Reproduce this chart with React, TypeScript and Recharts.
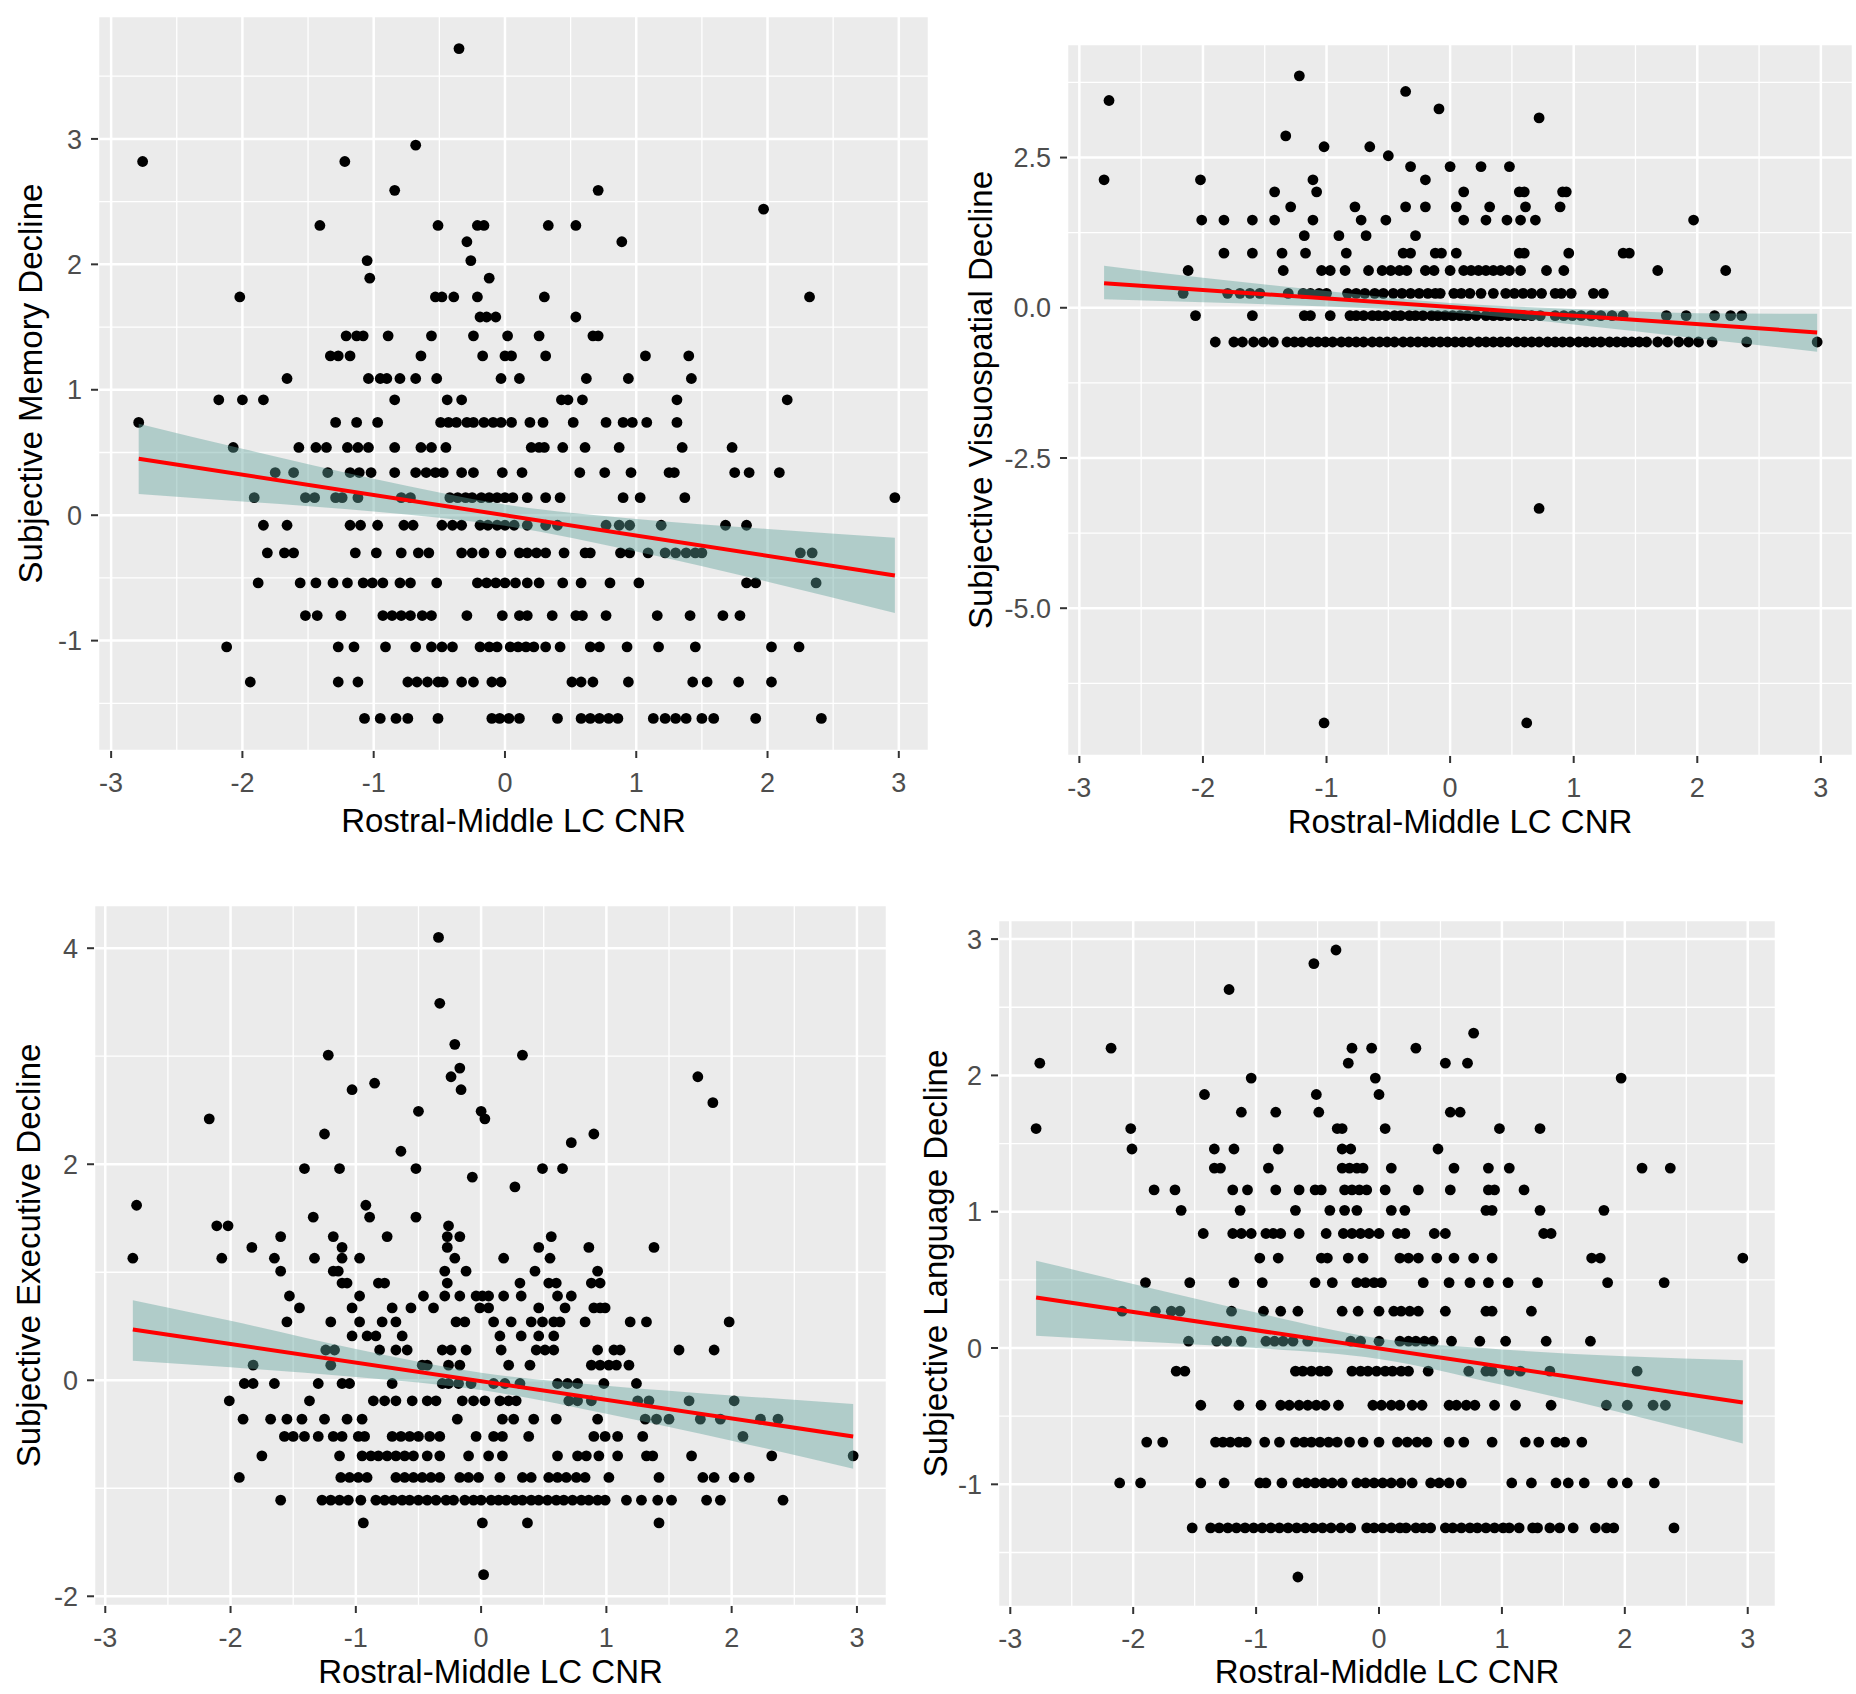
import React from 'react';
import { ComposedChart, Scatter, Line, Area, XAxis, YAxis, CartesianGrid, Label } from 'recharts';

type Row = [number, number[]];
type Band = [number, number, number];
type Fit = [number, number];

const FONT = "'Liberation Sans', Arial, Helvetica, sans-serif";
const X_TITLE = 'Rostral-Middle LC CNR';

const xTicks = [-3, -2, -1, 0, 1, 2, 3];
const xMinorTicks = [-2.5, -1.5, -0.5, 0.5, 1.5, 2.5];

// Subjective Memory Decline: [y level, x values]
const memoryRows: Row[] = [
  [3.72, [-0.35]],
  [2.95, [-0.68]],
  [2.82, [-2.76, -1.22]],
  [2.59, [-0.84, 0.71]],
  [2.44, [1.97]],
  [2.31, [-1.41, -0.51, -0.21, -0.16, 0.33, 0.54]],
  [2.18, [-0.29, 0.89]],
  [2.03, [-1.05, -0.26]],
  [1.89, [-1.03, -0.12]],
  [1.74, [-2.02, -0.53, -0.48, -0.39, -0.21, 0.3, 2.32]],
  [1.58, [-0.19, -0.14, -0.07, 0.54]],
  [1.43, [-1.21, -1.13, -1.08, -0.89, -0.56, -0.24, 0.02, 0.26, 0.67, 0.71]],
  [1.27, [-1.33, -1.27, -1.18, -0.64, -0.17, 0.0, 0.05, 0.31, 1.07, 1.4]],
  [1.09, [-1.66, -1.04, -0.95, -0.9, -0.8, -0.68, -0.52, -0.03, 0.11, 0.62, 0.94, 1.42]],
  [0.92, [-2.18, -2.0, -1.84, -0.84, -0.44, -0.33, 0.43, 0.48, 0.59, 1.31, 2.15]],
  [0.74, [-2.79, -1.29, -1.13, -0.97, -0.49, -0.43, -0.37, -0.29, -0.24, -0.16, -0.09, -0.03, 0.05, 0.19, 0.29, 0.52, 0.77, 0.9, 0.97, 1.08, 1.31]],
  [0.54, [-2.07, -1.57, -1.44, -1.36, -1.2, -1.12, -1.04, -0.84, -0.64, -0.56, -0.45, 0.2, 0.26, 0.3, 0.44, 0.61, 0.87, 1.35, 1.73]],
  [0.34, [-1.75, -1.61, -1.35, -1.18, -1.11, -1.02, -0.84, -0.68, -0.6, -0.53, -0.47, -0.33, -0.24, -0.02, 0.13, 0.57, 0.76, 0.96, 1.25, 1.29, 1.75, 1.86, 2.09]],
  [0.14, [-1.91, -1.52, -1.45, -1.29, -1.24, -1.12, -0.79, -0.72, -0.42, -0.36, -0.3, -0.25, -0.18, -0.12, -0.06, 0.0, 0.06, 0.17, 0.31, 0.42, 0.9, 1.03, 1.37, 2.97]],
  [-0.08, [-1.84, -1.66, -1.18, -1.1, -0.97, -0.77, -0.7, -0.48, -0.4, -0.33, -0.19, -0.13, -0.06, 0.0, 0.07, 0.17, 0.31, 0.4, 0.77, 0.87, 0.95, 1.19, 1.68, 1.84]],
  [-0.3, [-1.81, -1.68, -1.61, -1.14, -0.98, -0.79, -0.66, -0.58, -0.33, -0.25, -0.16, -0.03, 0.11, 0.17, 0.24, 0.31, 0.45, 0.61, 0.65, 0.88, 0.95, 1.09, 1.22, 1.3, 1.38, 1.45, 1.5, 2.25, 2.34]],
  [-0.54, [-1.88, -1.56, -1.44, -1.31, -1.2, -1.08, -1.01, -0.93, -0.8, -0.72, -0.52, -0.21, -0.14, -0.07, 0.0, 0.08, 0.17, 0.26, 0.44, 0.58, 0.8, 1.02, 1.84, 1.91, 2.37]],
  [-0.8, [-1.52, -1.43, -1.25, -0.93, -0.86, -0.79, -0.72, -0.63, -0.56, -0.29, -0.02, 0.11, 0.17, 0.36, 0.54, 0.59, 0.77, 1.16, 1.41, 1.66, 1.79]],
  [-1.05, [-2.12, -1.27, -1.15, -0.91, -0.68, -0.56, -0.48, -0.4, -0.19, -0.12, -0.06, 0.04, 0.1, 0.16, 0.22, 0.31, 0.42, 0.65, 0.72, 0.93, 1.17, 1.45, 2.03, 2.24]],
  [-1.33, [-1.94, -1.27, -1.12, -0.74, -0.67, -0.59, -0.51, -0.47, -0.33, -0.24, -0.1, -0.03, 0.51, 0.58, 0.67, 0.94, 1.43, 1.54, 1.78, 2.03]],
  [-1.62, [-1.07, -0.95, -0.83, -0.74, -0.51, -0.1, -0.04, 0.03, 0.11, 0.4, 0.58, 0.65, 0.72, 0.79, 0.86, 1.13, 1.22, 1.3, 1.38, 1.5, 1.59, 1.91, 2.41]],
];
const memoryFit: Fit[] = [[-2.79, 0.45], [2.97, -0.48]];
const memoryBand: Band[] = [
  [-2.79, 0.17, 0.73], [-2, 0.11, 0.53], [-1, 0.03, 0.29], [0, -0.085, 0.085],
  [1, -0.29, -0.03], [2, -0.53, -0.11], [2.97, -0.78, -0.18],
];

// Subjective Visuospatial Decline
const visuoRows: Row[] = [
  [3.86, [-1.22]],
  [3.6, [-0.36]],
  [3.45, [-2.76]],
  [3.31, [-0.09]],
  [3.16, [0.72]],
  [2.86, [-1.33]],
  [2.68, [-1.02, -0.65]],
  [2.53, [-0.5]],
  [2.35, [-0.32, 0.0, 0.25, 0.48]],
  [2.13, [-2.8, -2.02, -1.11, -0.2]],
  [1.93, [-1.42, -1.08, 0.11, 0.56, 0.6, 0.91, 0.94]],
  [1.68, [-1.29, -0.77, -0.36, -0.2, 0.05, 0.32, 0.61, 0.89]],
  [1.46, [-2.01, -1.83, -1.6, -1.42, -1.11, -0.72, -0.52, 0.11, 0.29, 0.46, 0.57, 0.69, 1.97]],
  [1.2, [-1.18, -0.9, -0.68, -0.28]],
  [0.91, [-1.83, -1.6, -1.36, -1.17, -0.84, -0.38, -0.32, -0.12, -0.07, 0.05, 0.56, 0.6, 0.96, 1.4, 1.45]],
  [0.62, [-2.12, -1.35, -1.04, -0.97, -0.85, -0.66, -0.55, -0.48, -0.41, -0.35, -0.2, -0.13, 0.0, 0.11, 0.17, 0.23, 0.29, 0.35, 0.41, 0.48, 0.57, 0.78, 0.92, 1.68, 2.23]],
  [0.24, [-2.16, -1.8, -1.7, -1.62, -1.54, -1.31, -1.19, -1.13, -1.06, -1.0, -0.83, -0.76, -0.69, -0.61, -0.54, -0.46, -0.39, -0.32, -0.25, -0.18, -0.12, -0.08, 0.03, 0.09, 0.16, 0.25, 0.35, 0.45, 0.52, 0.59, 0.66, 0.74, 0.85, 0.9, 0.98, 1.16, 1.24]],
  [-0.13, [-2.06, -1.6, -1.18, -1.13, -0.97, -0.81, -0.76, -0.7, -0.63, -0.58, -0.52, -0.45, -0.4, -0.33, -0.28, -0.22, -0.15, -0.1, -0.04, 0.02, 0.08, 0.14, 0.21, 0.29, 0.35, 0.41, 0.47, 0.54, 0.6, 0.66, 0.73, 0.85, 0.92, 0.99, 1.06, 1.14, 1.22, 1.31, 1.4, 1.75, 1.91, 2.14, 2.27, 2.36]],
  [-0.57, [-1.9, -1.75, -1.68, -1.59, -1.51, -1.43, -1.32, -1.26, -1.2, -1.13, -1.07, -1.01, -0.95, -0.88, -0.82, -0.76, -0.7, -0.63, -0.57, -0.51, -0.45, -0.38, -0.32, -0.26, -0.2, -0.14, -0.08, -0.02, 0.04, 0.1, 0.16, 0.23, 0.29, 0.35, 0.41, 0.47, 0.54, 0.6, 0.66, 0.72, 0.79, 0.85, 0.91, 0.97, 1.04, 1.1, 1.16, 1.22, 1.29, 1.35, 1.41, 1.47, 1.53, 1.59, 1.68, 1.76, 1.85, 1.93, 2.01, 2.12, 2.4, 2.97]],
  [-3.34, [0.72]],
  [-6.91, [-1.02, 0.62]],
];
const visuoFit: Fit[] = [[-2.8, 0.41], [2.97, -0.41]];
const visuoBand: Band[] = [
  [-2.8, 0.14, 0.7], [-2, 0.09, 0.5], [-1, 0.02, 0.28], [0, -0.08, 0.08],
  [1, -0.28, -0.02], [2, -0.51, -0.09], [2.97, -0.73, -0.1],
];

// Subjective Executive Decline
const execRows: Row[] = [
  [4.1, [-0.34]],
  [3.49, [-0.33]],
  [3.11, [-0.21]],
  [3.01, [-1.22, 0.33]],
  [2.89, [-0.17]],
  [2.81, [-0.24, 1.73]],
  [2.75, [-0.85]],
  [2.69, [-1.03, -0.16]],
  [2.57, [1.85]],
  [2.49, [-0.5, 0.0]],
  [2.42, [-2.17, 0.03]],
  [2.28, [-1.25, 0.9]],
  [2.2, [0.72]],
  [2.12, [-0.64]],
  [1.96, [-1.41, -1.13, -0.52, 0.49, 0.65]],
  [1.88, [-0.07]],
  [1.79, [0.27]],
  [1.62, [-2.75, -0.92]],
  [1.51, [-1.34, -0.89, -0.52]],
  [1.43, [-2.11, -2.02, -0.26]],
  [1.33, [-1.6, -1.18, -0.75, -0.27, -0.17, 0.56]],
  [1.23, [-1.83, -1.11, -0.27, 0.46, 0.86, 1.38]],
  [1.13, [-2.78, -2.07, -1.65, -1.33, -1.11, -0.97, -0.21, 0.18, 0.55]],
  [1.01, [-1.6, -1.18, -1.14, -0.29, -0.12, 0.43, 0.93]],
  [0.9, [-1.11, -1.07, -0.82, -0.77, -0.27, 0.31, 0.54, 0.6, 0.88, 0.95]],
  [0.78, [-1.53, -0.97, -0.46, -0.29, -0.17, -0.04, 0.01, 0.06, 0.18, 0.32, 0.61, 0.72]],
  [0.67, [-1.45, -1.03, -0.71, -0.56, -0.38, -0.01, 0.06, 0.46, 0.67, 0.9, 0.95, 0.99]],
  [0.54, [-1.55, -1.2, -0.97, -0.79, -0.68, -0.2, -0.13, 0.1, 0.24, 0.4, 0.49, 0.58, 0.63, 0.83, 1.19, 1.32, 1.98]],
  [0.41, [-1.03, -0.91, -0.84, -0.63, 0.15, 0.32, 0.46, 0.58]],
  [0.28, [-1.24, -1.17, -0.81, -0.68, -0.59, -0.31, -0.24, -0.12, 0.16, 0.44, 0.51, 0.58, 0.93, 1.06, 1.11, 1.58, 1.86]],
  [0.14, [-1.82, -1.2, -0.47, -0.43, -0.26, -0.17, 0.22, 0.39, 0.88, 0.95, 1.02, 1.08, 1.18]],
  [-0.03, [-1.89, -1.82, -1.65, -1.3, -1.11, -1.05, -0.71, -0.31, -0.26, -0.18, -0.08, 0.1, 0.19, 0.31, 0.61, 0.69, 0.77, 0.98, 1.24]],
  [-0.19, [-2.01, -1.37, -0.86, -0.77, -0.68, -0.55, -0.43, -0.36, -0.15, -0.06, 0.03, 0.15, 0.22, 0.28, 0.7, 0.77, 0.88, 1.25, 1.34, 1.66, 2.02]],
  [-0.36, [-1.9, -1.68, -1.55, -1.43, -1.25, -1.07, -0.95, -0.19, 0.17, 0.26, 0.42, 0.6, 0.93, 1.31, 1.4, 1.5, 1.75, 1.91, 2.23, 2.37]],
  [-0.52, [-1.57, -1.5, -1.41, -1.3, -1.18, -1.11, -0.98, -0.93, -0.71, -0.64, -0.57, -0.5, -0.41, -0.33, -0.04, 0.1, 0.17, 0.38, 0.9, 0.99, 1.09, 1.29, 2.09]],
  [-0.7, [-1.75, -1.13, -0.95, -0.88, -0.82, -0.75, -0.68, -0.61, -0.54, -0.43, -0.33, -0.1, 0.06, 0.17, 0.61, 0.77, 0.84, 0.94, 1.09, 1.32, 1.37, 1.68, 2.32, 2.97]],
  [-0.9, [-1.93, -1.12, -1.05, -0.98, -0.91, -0.68, -0.61, -0.54, -0.47, -0.4, -0.33, -0.17, -0.1, -0.02, 0.15, 0.33, 0.4, 0.54, 0.61, 0.68, 0.76, 0.83, 1.02, 1.42, 1.77, 1.86, 2.02, 2.14]],
  [-1.11, [-1.6, -1.27, -1.2, -1.13, -1.06, -0.96, -0.84, -0.77, -0.7, -0.63, -0.57, -0.5, -0.43, -0.36, -0.28, -0.22, -0.13, -0.06, 0.0, 0.08, 0.14, 0.2, 0.27, 0.33, 0.4, 0.46, 0.53, 0.6, 0.66, 0.73, 0.8, 0.86, 0.93, 0.99, 1.16, 1.28, 1.41, 1.52, 1.8, 1.91, 2.41]],
  [-1.32, [-0.94, 0.01, 0.37, 1.42]],
  [-1.8, [0.02]],
];
const execFit: Fit[] = [[-2.78, 0.47], [2.97, -0.52]];
const execBand: Band[] = [
  [-2.78, 0.18, 0.74], [-2, 0.12, 0.55], [-1, 0.03, 0.29], [0, -0.09, 0.07],
  [1, -0.31, -0.05], [2, -0.56, -0.14], [2.97, -0.82, -0.22],
];

// Subjective Language Decline
const langRows: Row[] = [
  [2.92, [-0.35]],
  [2.82, [-0.53]],
  [2.63, [-1.22]],
  [2.31, [0.77]],
  [2.2, [-2.18, -0.22, -0.06, 0.3]],
  [2.09, [-2.76, -0.25, 0.54, 0.72]],
  [1.98, [-1.04, -0.03, 1.97]],
  [1.86, [-1.42, -0.51, 0.0]],
  [1.73, [-1.12, -0.84, -0.49, 0.58, 0.66]],
  [1.61, [-2.79, -2.02, -0.34, -0.3, 0.05, 0.98, 1.31]],
  [1.46, [-2.01, -1.34, -1.18, -0.82, -0.3, -0.23, 0.48]],
  [1.32, [-1.34, -1.29, -0.9, -0.3, -0.24, -0.18, -0.13, 0.1, 0.61, 0.89, 1.06, 2.14, 2.37]],
  [1.16, [-1.83, -1.66, -1.19, -1.07, -0.84, -0.65, -0.52, -0.47, -0.28, -0.22, -0.16, -0.1, 0.05, 0.32, 0.58, 0.89, 0.94, 1.18]],
  [1.01, [-1.61, -1.13, -0.68, -0.4, -0.28, -0.18, 0.1, 0.21, 0.87, 0.92, 1.31, 1.83]],
  [0.84, [-1.43, -1.19, -1.12, -1.04, -0.92, -0.86, -0.8, -0.65, -0.43, -0.29, -0.22, -0.15, -0.08, 0.0, 0.15, 0.21, 0.45, 0.54, 1.34, 1.4]],
  [0.66, [-0.97, -0.82, -0.47, -0.42, -0.25, -0.13, 0.17, 0.24, 0.32, 0.47, 0.61, 0.77, 0.92, 1.73, 1.8, 2.96]],
  [0.48, [-1.9, -1.54, -1.18, -0.95, -0.52, -0.38, -0.18, -0.11, -0.04, 0.02, 0.36, 0.57, 0.74, 0.89, 1.05, 1.29, 1.86, 2.32]],
  [0.27, [-2.09, -1.82, -1.69, -1.62, -1.2, -0.94, -0.8, -0.66, -0.3, -0.17, 0.0, 0.12, 0.18, 0.25, 0.32, 0.54, 0.87, 0.92, 1.24]],
  [0.05, [-1.55, -1.32, -1.24, -1.12, -0.92, -0.85, -0.78, -0.7, -0.58, -0.23, -0.15, 0.0, 0.17, 0.24, 0.3, 0.37, 0.44, 0.59, 0.82, 1.03, 1.36, 1.72]],
  [-0.17, [-1.65, -1.58, -0.68, -0.62, -0.55, -0.48, -0.42, -0.22, -0.15, -0.09, -0.02, 0.05, 0.11, 0.18, 0.24, 0.4, 0.73, 0.87, 0.92, 1.06, 1.15, 1.39, 2.1]],
  [-0.42, [-1.45, -1.14, -0.96, -0.8, -0.73, -0.65, -0.58, -0.51, -0.44, -0.33, -0.05, 0.02, 0.1, 0.17, 0.27, 0.35, 0.57, 0.63, 0.71, 0.78, 0.94, 1.11, 1.4, 1.85, 2.02, 2.23, 2.33]],
  [-0.69, [-1.89, -1.76, -1.33, -1.27, -1.21, -1.14, -1.08, -0.93, -0.81, -0.68, -0.61, -0.55, -0.48, -0.41, -0.34, -0.24, -0.13, 0.0, 0.15, 0.23, 0.31, 0.39, 0.57, 0.69, 0.92, 1.19, 1.3, 1.44, 1.51, 1.65]],
  [-0.99, [-2.11, -1.94, -1.45, -1.26, -0.97, -0.92, -0.79, -0.66, -0.59, -0.52, -0.45, -0.38, -0.3, -0.18, -0.11, -0.04, 0.03, 0.1, 0.18, 0.27, 0.42, 0.49, 0.57, 0.67, 1.08, 1.24, 1.44, 1.54, 1.67, 1.9, 2.02, 2.24]],
  [-1.32, [-1.52, -1.37, -1.3, -1.23, -1.16, -1.09, -1.02, -0.95, -0.88, -0.81, -0.74, -0.67, -0.6, -0.53, -0.46, -0.39, -0.31, -0.23, -0.1, -0.04, 0.03, 0.1, 0.17, 0.22, 0.3, 0.36, 0.42, 0.54, 0.6, 0.67, 0.74, 0.8, 0.87, 0.94, 1.01, 1.06, 1.14, 1.25, 1.29, 1.39, 1.47, 1.58, 1.76, 1.85, 1.91, 2.4]],
  [-1.68, [-0.66]],
];
const langFit: Fit[] = [[-2.79, 0.37], [2.96, -0.4]];
const langBand: Band[] = [
  [-2.79, 0.09, 0.64], [-2, 0.05, 0.47], [-1, 0.0, 0.26], [0, -0.08, 0.07],
  [1, -0.27, -0.01], [2, -0.48, -0.06], [2.96, -0.7, -0.09],
];

interface PanelProps {
  left: number;
  top: number;
  width: number;
  height: number;
  plotLeft: number;
  plotTop: number;
  plotRight: number;
  plotBottom: number;
  rows: Row[];
  fit: Fit[];
  band: Band[];
  xDomain: [number, number];
  yDomain: [number, number];
  yTicks: number[];
  yMinor: number[];
  yTitle: string;
  yTitleX: number;
  xTitleY: number;
  yFmt?: (v: number) => string;
}

const Dot = (props: any) => <circle cx={props.cx} cy={props.cy} r={5.4} fill="#000" />;

const Panel: React.FC<PanelProps> = (p) => {
  const points = p.rows.flatMap(([y, xs]) => xs.map((x) => ({ x, y })));
  const bandData = p.band.map(([x, lo, hi]) => ({ x, range: [lo, hi] }));
  const fitData = p.fit.map(([x, y]) => ({ x, y }));
  const cx = (p.plotLeft + p.plotRight) / 2;
  const cy = (p.plotTop + p.plotBottom) / 2;
  const tickStyle = { fill: '#4D4D4D', fontSize: 27, fontFamily: FONT };

  return (
    <div style={{ position: 'absolute', left: p.left, top: p.top }}>
      <ComposedChart
        width={p.width}
        height={p.height}
        margin={{ top: p.plotTop, right: p.width - p.plotRight, bottom: 0, left: 0 }}
      >
        <XAxis xAxisId="minor" type="number" dataKey="x" domain={p.xDomain} ticks={xMinorTicks} allowDataOverflow hide />
        <YAxis yAxisId="minor" type="number" dataKey="y" domain={p.yDomain} ticks={p.yMinor} allowDataOverflow hide />
        <XAxis
          type="number"
          dataKey="x"
          domain={p.xDomain}
          ticks={xTicks}
          allowDataOverflow
          height={p.height - p.plotBottom}
          axisLine={false}
          tickLine={{ stroke: '#333333', strokeWidth: 2 }}
          tickSize={7}
          tickMargin={15}
          tick={tickStyle}
          interval={0}
        >
          <Label
            content={() => (
              <text x={cx} y={p.xTitleY} textAnchor="middle" fontSize={33} fontFamily={FONT} fill="#000">
                {X_TITLE}
              </text>
            )}
          />
        </XAxis>
        <YAxis
          type="number"
          dataKey="y"
          domain={p.yDomain}
          ticks={p.yTicks}
          allowDataOverflow
          width={p.plotLeft}
          axisLine={false}
          tickLine={{ stroke: '#333333', strokeWidth: 2 }}
          tickSize={7}
          tickMargin={9}
          tick={tickStyle}
          tickFormatter={p.yFmt}
          interval={0}
        >
          <Label
            content={() => (
              <text
                x={p.yTitleX}
                y={cy}
                textAnchor="middle"
                fontSize={33}
                fontFamily={FONT}
                fill="#000"
                transform={`rotate(-90 ${p.yTitleX} ${cy})`}
              >
                {p.yTitle}
              </text>
            )}
          />
        </YAxis>
        <CartesianGrid xAxisId="minor" yAxisId="minor" fill="#EBEBEB" stroke="#FFFFFF" strokeWidth={1.3} />
        <CartesianGrid stroke="#FFFFFF" strokeWidth={2.5} />
        <Scatter data={points} fill="#000" shape={Dot} isAnimationActive={false} />
        <Area
          data={bandData}
          dataKey="range"
          type="monotone"
          stroke="none"
          fill="#5FA39A"
          fillOpacity={0.42}
          isAnimationActive={false}
          zIndex={700}
        />
        <Line
          data={fitData}
          dataKey="y"
          type="linear"
          stroke="#FF0000"
          strokeWidth={4}
          dot={false}
          activeDot={false}
          isAnimationActive={false}
          zIndex={800}
        />
      </ComposedChart>
    </div>
  );
};

const App: React.FC = () => {
  return (
    <div style={{ position: 'absolute', left: 0, top: 0, width: 1856, height: 1694, background: '#FFFFFF' }}>
      <Panel
        left={0}
        top={0}
        width={940}
        height={850}
        plotLeft={98}
        plotTop={16}
        plotRight={929}
        plotBottom={751}
        rows={memoryRows}
        fit={memoryFit}
        band={memoryBand}
        xDomain={[-3.1, 3.23]}
        yDomain={[-1.88, 3.98]}
        yTicks={[-1, 0, 1, 2, 3]}
        yMinor={[-1.5, -0.5, 0.5, 1.5, 2.5, 3.5]}
        yTitle="Subjective Memory Decline"
        yTitleX={42}
        xTitleY={832}
      />
      <Panel
        left={940}
        top={0}
        width={916}
        height={850}
        plotLeft={127}
        plotTop={44}
        plotRight={913}
        plotBottom={756}
        rows={visuoRows}
        fit={visuoFit}
        band={visuoBand}
        xDomain={[-3.1, 3.26]}
        yDomain={[-7.46, 4.39]}
        yTicks={[-5, -2.5, 0, 2.5]}
        yMinor={[-6.25, -3.75, -1.25, 1.25, 3.75]}
        yTitle="Subjective Visuospatial Decline"
        yTitleX={52}
        xTitleY={833}
        yFmt={(v) => v.toFixed(1)}
      />
      <Panel
        left={0}
        top={860}
        width={900}
        height={834}
        plotLeft={94}
        plotTop={45}
        plotRight={887}
        plotBottom={746}
        rows={execRows}
        fit={execFit}
        band={execBand}
        xDomain={[-3.09, 3.24]}
        yDomain={[-2.09, 4.4]}
        yTicks={[-2, 0, 2, 4]}
        yMinor={[-1, 1, 3]}
        yTitle="Subjective Executive Decline"
        yTitleX={40}
        xTitleY={823}
      />
      <Panel
        left={900}
        top={860}
        width={956}
        height={834}
        plotLeft={98}
        plotTop={60}
        plotRight={876}
        plotBottom={747}
        rows={langRows}
        fit={langFit}
        band={langBand}
        xDomain={[-3.1, 3.23]}
        yDomain={[-1.9, 3.14]}
        yTicks={[-1, 0, 1, 2, 3]}
        yMinor={[-1.5, -0.5, 0.5, 1.5, 2.5]}
        yTitle="Subjective Language Decline"
        yTitleX={47}
        xTitleY={823}
      />
    </div>
  );
};

export default App;
